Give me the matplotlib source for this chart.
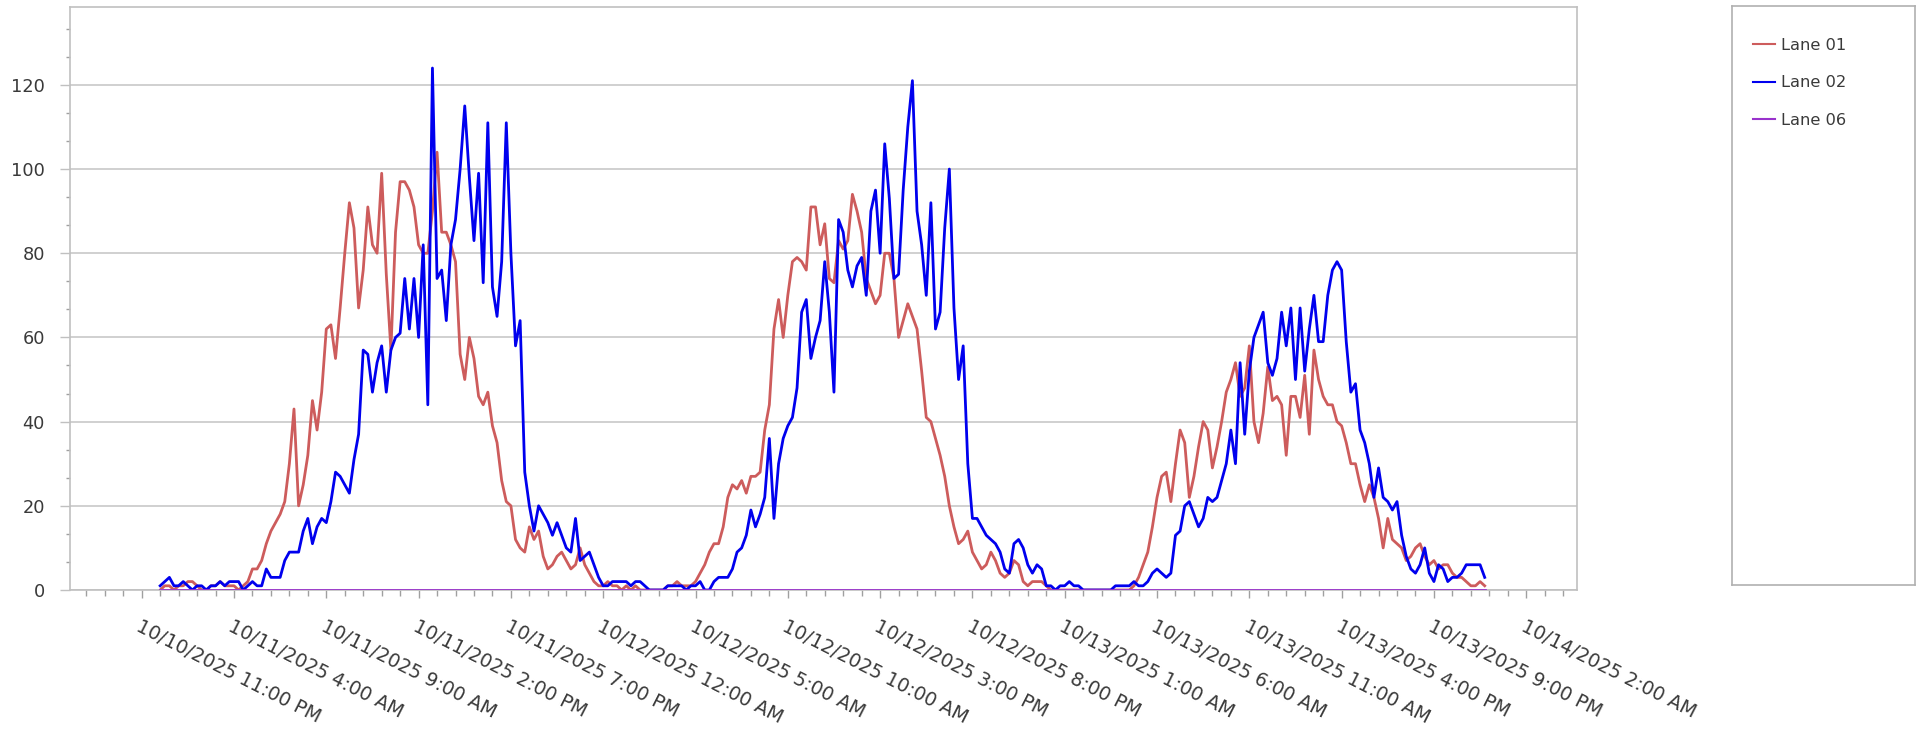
import matplotlib
matplotlib.use("Agg")
import matplotlib.pyplot as plt
import matplotlib.dates as mdates
import pandas as pd
import numpy as np

# ---------------- data (15-minute samples starting 10/11/2025 00:00) ----------------
lane01 = [
    0, 1, 1, 0,   1, 1, 2, 2,   1, 0, 0, 1,   1, 2, 1, 1,   1, 0, 1, 2,
    5, 5, 7, 11,  14, 16, 18, 21,  30, 43, 20, 25,  32, 45, 38, 47,  62, 63, 55, 67,
    80, 92, 86, 67,  76, 91, 82, 80,  99, 75, 57, 85,  97, 97, 95, 91,  82, 80, 80, 90,
    104, 85, 85, 82,  78, 56, 50, 60,  55, 46, 44, 47,  39, 35, 26, 21,  20, 12, 10, 9,
    15, 12, 14, 8,  5, 6, 8, 9,  7, 5, 6, 10,  6, 4, 2, 1,
    1, 2, 1, 1,  0, 1, 0, 1,  0, 0, 0, 0,  0, 0, 1, 1,  2, 1, 1, 1,
    2, 4, 6, 9,  11, 11, 15, 22,  25, 24, 26, 23,  27, 27, 28, 38,  44, 62, 69, 60,
    70, 78, 79, 78,  76, 91, 91, 82,  87, 74, 73, 83,  81, 83, 94, 90,  85, 74, 71, 68,
    70, 80, 80, 74,  60, 64, 68, 65,  62, 52, 41, 40,  36, 32, 27, 20,  15, 11, 12, 14,
    9, 7, 5, 6,  9, 7, 4, 3,  4, 7, 6, 2,  1, 2, 2, 2,
    1, 0, 0, 0,  0, 0, 0, 0,  0, 0, 0, 0,  0, 0, 0, 0,  0, 0, 0, 1,
    3, 6, 9, 15,  22, 27, 28, 21,  30, 38, 35, 22,  27, 34, 40, 38,  29, 34, 40, 47,
    50, 54, 46, 48,  58, 40, 35, 42,  53, 45, 46, 44,  32, 46, 46, 41,  51, 37, 57, 50,
    46, 44, 44, 40,  39, 35, 30, 30,  25, 21, 25, 22,  17, 10, 17, 12,  11, 10, 7, 8,
    10, 11, 8, 6,  7, 5, 6, 6,  4, 3, 3, 2,  1, 1, 2, 1,
]

lane02 = [
    1, 2, 3, 1,   1, 2, 1, 0,   1, 1, 0, 1,   1, 2, 1, 2,   2, 2, 0, 1,
    2, 1, 1, 5,   3, 3, 3, 7,   9, 9, 9, 14,  17, 11, 15, 17,  16, 21, 28, 27,
    25, 23, 31, 37,  57, 56, 47, 54,  58, 47, 57, 60,  61, 74, 62, 74,  60, 82, 44, 124,
    74, 76, 64, 82,  88, 100, 115, 98,  83, 99, 73, 111,  72, 65, 78, 111,  80, 58, 64, 28,
    20, 14, 20, 18,  16, 13, 16, 13,  10, 9, 17, 7,  8, 9, 6, 3,
    1, 1, 2, 2,  2, 2, 1, 2,  2, 1, 0, 0,  0, 0, 1, 1,  1, 1, 0, 1,
    1, 2, 0, 0,  2, 3, 3, 3,  5, 9, 10, 13,  19, 15, 18, 22,  36, 17, 30, 36,
    39, 41, 48, 66,  69, 55, 60, 64,  78, 66, 47, 88,  85, 76, 72, 77,  79, 70, 90, 95,
    80, 106, 93, 74,  75, 95, 110, 121,  90, 82, 70, 92,  62, 66, 86, 100,  67, 50, 58, 30,
    17, 17, 15, 13,  12, 11, 9, 5,  4, 11, 12, 10,  6, 4, 6, 5,
    1, 1, 0, 1,  1, 2, 1, 1,  0, 0, 0, 0,  0, 0, 0, 1,  1, 1, 1, 2,
    1, 1, 2, 4,  5, 4, 3, 4,  13, 14, 20, 21,  18, 15, 17, 22,  21, 22, 26, 30,
    38, 30, 54, 37,  52, 60, 63, 66,  54, 51, 55, 66,  58, 67, 50, 67,  52, 62, 70, 59,
    59, 70, 76, 78,  76, 59, 47, 49,  38, 35, 30, 22,  29, 22, 21, 19,  21, 13, 8, 5,
    4, 6, 10, 4,  2, 6, 5, 2,  3, 3, 4, 6,  6, 6, 6, 3,
]

lane06 = [0] * len(lane01)

series_names = ["Lane 01", "Lane 02", "Lane 06"]
series_colors = ["#CD5C5C", "#0000EE", "#9932CC"]

start_time = "2025-10-11 00:00"
x_range = ("2025-10-10 19:07", "2025-10-14 04:45")
tick_labels = [
    "10/10/2025 11:00 PM", "10/11/2025 4:00 AM", "10/11/2025 9:00 AM",
    "10/11/2025 2:00 PM", "10/11/2025 7:00 PM", "10/12/2025 12:00 AM",
    "10/12/2025 5:00 AM", "10/12/2025 10:00 AM", "10/12/2025 3:00 PM",
    "10/12/2025 8:00 PM", "10/13/2025 1:00 AM", "10/13/2025 6:00 AM",
    "10/13/2025 11:00 AM", "10/13/2025 4:00 PM", "10/13/2025 9:00 PM",
    "10/14/2025 2:00 AM",
]
y_ticks = [0, 20, 40, 60, 80, 100, 120]

# ---------------- figure ----------------
W, H = 1919, 752
fig = plt.figure(figsize=(W / 100, H / 100), dpi=100)
fig.patch.set_facecolor("white")

ax = fig.add_axes([70 / W, 1 - 590 / H, (1577 - 70) / W, (590 - 7) / H])

times = pd.date_range(start_time, periods=len(lane01), freq="15min")
lines = []
for vals, name, col, z in zip([lane01, lane02, lane06], series_names, series_colors, [2, 3, 4]):
    ln, = ax.plot(times, vals, color=col, lw=2.0, label=name, zorder=z)
    lines.append(ln)

ax.set_xlim(pd.Timestamp(x_range[0]), pd.Timestamp(x_range[1]))
ax.set_ylim(0, 138.5)

tick_pos = pd.date_range("2025-10-10 23:00", periods=len(tick_labels), freq="5h")
ax.set_xticks(tick_pos)
ax.set_xticklabels(tick_labels, rotation=-27, ha="left", va="top",
                   rotation_mode="anchor", fontsize=13.7, color="#3A3A3A")
ax.xaxis.set_minor_locator(mdates.HourLocator())

ax.set_yticks(y_ticks)
ax.set_yticklabels([str(v) for v in y_ticks], fontsize=12.8, color="#3A3A3A")
ax.yaxis.set_minor_locator(matplotlib.ticker.MultipleLocator(20 / 3))

ax.tick_params(axis="x", which="major", length=6, width=1, color="#A0A0A0", pad=13)
ax.tick_params(axis="x", which="minor", length=4, width=1, color="#A0A0A0")
ax.tick_params(axis="y", which="major", length=7, width=1, color="#C0C0C0", pad=11)
ax.tick_params(axis="y", which="minor", length=3, width=1, color="#A0A0A0")

ax.grid(True, axis="y", which="major", color="#C8C8C8", lw=1.2)
ax.set_axisbelow(True)
for s in ax.spines.values():
    s.set_color("#C0C0C0")
    s.set_linewidth(1.2)

# ---------------- legend box ----------------
lax = fig.add_axes([1732 / W, 1 - 585 / H, (1915 - 1732) / W, (585 - 6) / H])
lax.set_xticks([])
lax.set_yticks([])
for s in lax.spines.values():
    s.set_color("#B0B0B0")
    s.set_linewidth(1.2)
leg = lax.legend(handles=lines, labels=series_names, loc="upper left",
                 bbox_to_anchor=(0.115, 0.945), frameon=False, fontsize=11.7,
                 handlelength=1.35, handletextpad=0.4, labelspacing=1.38,
                 borderaxespad=0, borderpad=0)
for t in leg.get_texts():
    t.set_color("#3A3A3A")
for h in leg.legend_handles:
    h.set_linewidth(1.5)

fig.savefig("out.png", dpi=100, facecolor="white")
